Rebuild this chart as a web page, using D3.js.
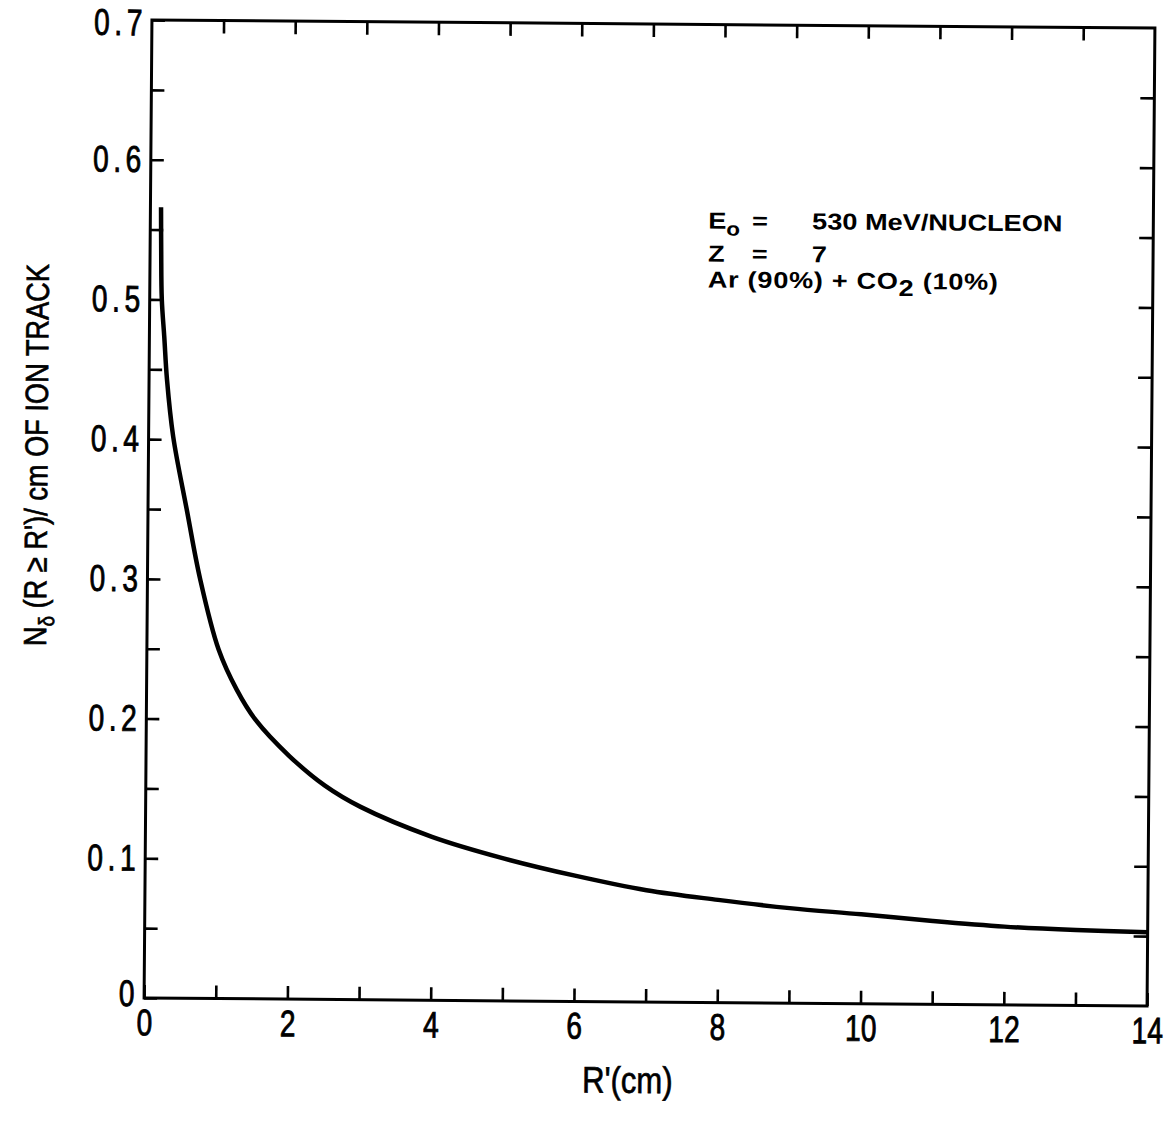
<!DOCTYPE html>
<html>
<head>
<meta charset="utf-8">
<script src="https://cdn.jsdelivr.net/npm/d3@7"></script>
<style>
  html, body { margin: 0; padding: 0; background: #fff; }
  svg { display: block; }
</style>
</head>
<body>
<svg id="chart" width="1170" height="1122"></svg>
<script>
// Cumulative delta-ray count per cm of ion track vs. minimum range R'
const rPrime = [0.148, 0.155, 0.169, 0.208, 0.25, 0.343, 0.54, 0.736, 1.0, 1.26, 1.52, 2, 2.5, 3, 4, 5, 6, 7, 8, 9, 10, 11, 12, 13, 14];
const nDelta = [0.566, 0.535, 0.5, 0.473, 0.443, 0.402, 0.35, 0.30, 0.25, 0.221, 0.20, 0.174, 0.153, 0.138, 0.117, 0.102, 0.090, 0.080, 0.0735, 0.068, 0.064, 0.0596, 0.056, 0.054, 0.0528];

const xDomain = [0, 14];
const yDomain = [0, 0.7];
const xTickValues = d3.range(0, 15, 1);
const xTickLabels = [0, 2, 4, 6, 8, 10, 12, 14];
const yTickValues = d3.range(0, 15, 1).map(i => i * 0.05);
const yTickLabels = [0, 0.1, 0.2, 0.3, 0.4, 0.5, 0.6, 0.7];

const xTitle = "R'(cm)";
const annotation = {
  energy: "530 MeV/NUCLEON",
  charge: "7",
  gas: ["Ar (90%) + CO", "2", " (10%)"]
};

const W = 1170, H = 1122;
const frame = { left: 148, right: 1151, top: 24, bottom: 1002 };
const sans = '"Liberation Sans", Arial, Helvetica, sans-serif';
const squeeze = 0.76;   // condensed look for the axis lettering

const svg = d3.select("#chart");
svg.append("rect").attr("width", W).attr("height", H).attr("fill", "#fff");

// the whole plate sits very slightly turned
const cx = (frame.left + frame.right) / 2, cy = (frame.top + frame.bottom) / 2;
const g = svg.append("g").attr("transform", `rotate(0.46, ${cx}, ${cy})`);

const x = d3.scaleLinear().domain(xDomain).range([frame.left, frame.right]);
const y = d3.scaleLinear().domain(yDomain).range([frame.bottom, frame.top]);

const fmtY = v => (Math.abs(v) < 1e-9 ? "0" : d3.format(".1f")(v));
const isLabelX = v => xTickLabels.some(l => Math.abs(l - v) < 1e-9);
const isLabelY = v => yTickLabels.some(l => Math.abs(l - v) < 1e-9);

function styleAxis(sel) {
  sel.select(".domain").remove();
  sel.selectAll(".tick line").attr("stroke", "#000").attr("stroke-width", 2.6);
  sel.selectAll(".tick text")
    .attr("fill", "#000")
    .attr("stroke", "#000")
    .attr("stroke-width", 0.9)
    .style("font-family", sans)
    .style("font-size", "37px");
}

// bottom axis: inward ticks at every cm, labels on even values
g.append("g")
  .attr("transform", `translate(0,${frame.bottom})`)
  .call(d3.axisBottom(x).tickValues(xTickValues).tickSize(-13).tickPadding(11)
    .tickFormat(v => isLabelX(v) ? d3.format("d")(v) : ""))
  .call(styleAxis)
  .call(s => s.selectAll(".tick text").attr("transform", `scale(${squeeze},1)`));

// top axis: ticks only
g.append("g")
  .attr("transform", `translate(0,${frame.top})`)
  .call(d3.axisTop(x).tickValues(xTickValues.slice(1, -1)).tickSize(-13).tickFormat(""))
  .call(styleAxis);

// left axis: ticks every 0.05, labels every 0.1
g.append("g")
  .attr("transform", `translate(${frame.left},0)`)
  .call(d3.axisLeft(y).tickValues(yTickValues).tickSize(-13)
    .tickFormat(v => isLabelY(v) ? fmtY(v) : ""))
  .call(styleAxis)
  .call(s => s.selectAll(".tick text")
    .style("letter-spacing", "6px")
    .attr("x", -5 / squeeze)
    .attr("y", d => (d === 0 ? -4 : (Math.abs(d - 0.7) < 1e-9 ? 3 : 0)))
    .attr("transform", `scale(${squeeze},1)`));

// right axis: ticks only
g.append("g")
  .attr("transform", `translate(${frame.right},0)`)
  .call(d3.axisRight(y).tickValues(yTickValues.slice(1, -1)).tickSize(-14).tickFormat(""))
  .call(styleAxis);

// frame
g.append("rect")
  .attr("x", frame.left).attr("y", frame.top)
  .attr("width", frame.right - frame.left).attr("height", frame.bottom - frame.top)
  .attr("fill", "none").attr("stroke", "#000").attr("stroke-width", 3);

// curve
const pts = rPrime.map((r, i) => [r, nDelta[i]]);
g.append("path")
  .datum(pts)
  .attr("fill", "none")
  .attr("stroke", "#000")
  .attr("stroke-width", 4.5)
  .attr("stroke-linejoin", "round")
  .attr("d", d3.line().x(d => x(d[0])).y(d => y(d[1])).curve(d3.curveCatmullRom.alpha(0.5)));

// x-axis title
g.append("text")
  .attr("transform", `translate(632,1093) scale(0.84,1)`)
  .attr("text-anchor", "middle")
  .attr("stroke", "#000").attr("stroke-width", 0.7)
  .style("font-family", sans).style("font-size", "37px")
  .text(xTitle);

// y-axis title
const yt = g.append("text")
  .attr("transform", `translate(47,460) rotate(-90) scale(0.85,1)`)
  .attr("text-anchor", "middle")
  .attr("stroke", "#000").attr("stroke-width", 0.7)
  .style("font-family", sans).style("font-size", "32px");
yt.append("tspan").text("N");
yt.append("tspan").attr("dy", 8).style("font-size", "22px").text("δ");
yt.append("tspan").attr("dy", -8).text("  (R ≥ R')/ cm OF ION TRACK");

// run conditions
const ann = g.append("g")
  .attr("transform", "translate(706,228) scale(1.18,1)")
  .style("font-family", sans).style("font-weight", "bold").style("font-size", "23px")
  .attr("fill", "#000");
const l1 = ann.append("text").attr("x", 0).attr("y", 0);
l1.append("tspan").text("E");
l1.append("tspan").attr("dy", 7).style("font-size", "19px").text("o");
ann.append("text").attr("x", 37).attr("y", 0).text("=");
ann.append("text").attr("x", 88).attr("y", 0).text(annotation.energy);

ann.append("text").attr("x", 0).attr("y", 33).text("Z");
ann.append("text").attr("x", 37).attr("y", 33).text("=");
ann.append("text").attr("x", 88).attr("y", 33).text(annotation.charge);

const l3 = ann.append("text").attr("x", 0).attr("y", 59).style("letter-spacing", "0.6px");
l3.append("tspan").text(annotation.gas[0]);
l3.append("tspan").attr("dy", 7).text(annotation.gas[1]);
l3.append("tspan").attr("dy", -7).text(annotation.gas[2]);
</script>
</body>
</html>
